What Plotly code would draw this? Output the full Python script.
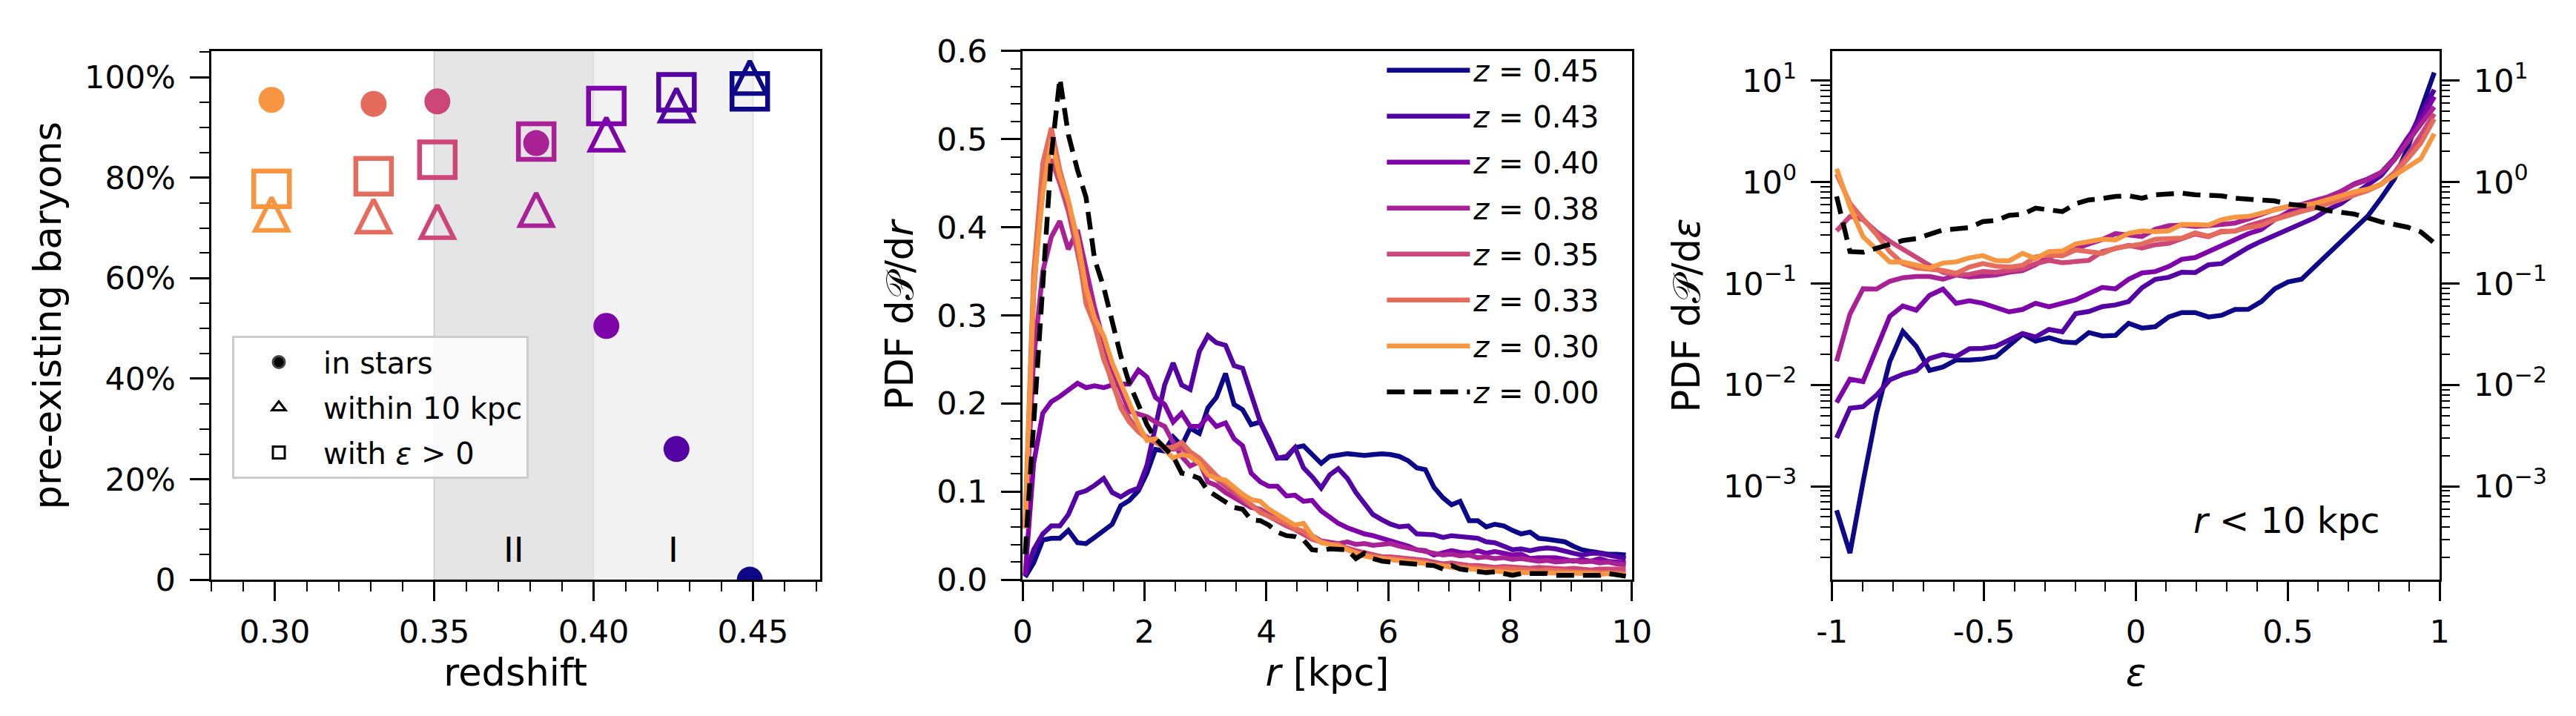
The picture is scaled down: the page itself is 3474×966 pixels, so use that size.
import plotly.graph_objects as go

# ---------------- panel 1: pre-existing baryons vs redshift ----------------
redshift = [0.299, 0.331, 0.351, 0.382, 0.404, 0.426, 0.449]
frac_in_stars = [0.955, 0.947, 0.952, 0.869, 0.505, 0.260, 0.0]
frac_within_10kpc = [0.728, 0.724, 0.713, 0.737, 0.887, 0.945, 1.0]
frac_eps_positive = [0.778, 0.803, 0.836, 0.872, 0.943, 0.970, 0.972]
phase_edges = [0.35, 0.40, 0.45]
phase_labels = ["II", "I"]

# plasma colours, one per snapshot (z=0.45 ... z=0.30)
snap_labels = ["0.45", "0.43", "0.40", "0.38", "0.35", "0.33", "0.30"]
snap_colors = ["#0d0887", "#5302a3", "#7e03a8", "#a82296", "#cc4778", "#e56b5d", "#f89540"]
point_colors = snap_colors[::-1]  # redshift list runs 0.30 -> 0.45

# ---------------- panel 2: radial PDF ----------------
r_kpc = [0.04, 0.18, 0.33, 0.47, 0.61, 0.75, 0.90, 1.04, 1.18, 1.33,
         1.47, 1.61, 1.75, 1.90, 2.04, 2.18, 2.33, 2.47, 2.61, 2.75,
         2.90, 3.04, 3.18, 3.33, 3.47, 3.61, 3.75, 3.90, 4.04, 4.18,
         4.33, 4.47, 4.61, 4.75, 4.90, 5.04, 5.18, 5.33, 5.47, 5.61,
         5.75, 5.90, 6.04, 6.18, 6.33, 6.47, 6.61, 6.75, 6.90, 7.04,
         7.18, 7.33, 7.47, 7.61, 7.75, 7.90, 8.04, 8.18, 8.33, 8.47,
         8.61, 8.75, 8.90, 9.04, 9.18, 9.33, 9.47, 9.61, 9.75, 9.90]

pdf_r_045 = [0.003, 0.019, 0.045, 0.047, 0.047, 0.056, 0.042, 0.041, 0.048, 0.056,
             0.063, 0.084, 0.090, 0.101, 0.121, 0.148, 0.146, 0.162, 0.152, 0.172,
             0.166, 0.195, 0.207, 0.234, 0.199, 0.193, 0.176, 0.179, 0.160, 0.138,
             0.138, 0.150, 0.152, 0.142, 0.132, 0.140, 0.142, 0.143, 0.142, 0.141,
             0.142, 0.143, 0.142, 0.140, 0.135, 0.127, 0.125, 0.105, 0.093, 0.085,
             0.089, 0.067, 0.067, 0.060, 0.063, 0.061, 0.056, 0.052, 0.054, 0.047,
             0.046, 0.045, 0.043, 0.038, 0.034, 0.032, 0.030, 0.029, 0.029, 0.028]
pdf_r_043 = [0.005, 0.034, 0.052, 0.061, 0.061, 0.074, 0.098, 0.101, 0.107, 0.115,
             0.099, 0.094, 0.100, 0.104, 0.130, 0.176, 0.221, 0.246, 0.221, 0.216,
             0.259, 0.277, 0.269, 0.266, 0.243, 0.240, 0.211, 0.179, 0.160, 0.138,
             0.140, 0.150, 0.127, 0.117, 0.104, 0.119, 0.126, 0.115, 0.099, 0.086,
             0.074, 0.068, 0.063, 0.060, 0.061, 0.052, 0.052, 0.051, 0.048, 0.050,
             0.049, 0.048, 0.047, 0.043, 0.042, 0.038, 0.034, 0.035, 0.033, 0.035,
             0.036, 0.035, 0.032, 0.030, 0.028, 0.030, 0.030, 0.028, 0.027, 0.024]
pdf_r_040 = [0.005, 0.132, 0.189, 0.202, 0.208, 0.216, 0.223, 0.218, 0.220, 0.218,
             0.221, 0.222, 0.222, 0.238, 0.230, 0.207, 0.199, 0.179, 0.189, 0.174,
             0.174, 0.185, 0.174, 0.178, 0.160, 0.152, 0.121, 0.111, 0.106, 0.106,
             0.095, 0.096, 0.089, 0.090, 0.078, 0.071, 0.064, 0.059, 0.055, 0.052,
             0.050, 0.047, 0.044, 0.042, 0.038, 0.034, 0.033, 0.028, 0.030, 0.033,
             0.031, 0.030, 0.033, 0.030, 0.032, 0.030, 0.028, 0.029, 0.024, 0.025,
             0.025, 0.025, 0.023, 0.021, 0.023, 0.021, 0.024, 0.021, 0.020, 0.019]
pdf_r_038 = [0.060, 0.250, 0.350, 0.389, 0.407, 0.375, 0.397, 0.350, 0.309, 0.270,
             0.238, 0.215, 0.191, 0.188, 0.185, 0.179, 0.174, 0.156, 0.140, 0.129,
             0.134, 0.111, 0.107, 0.099, 0.093, 0.087, 0.082, 0.080, 0.074, 0.070,
             0.064, 0.058, 0.054, 0.050, 0.044, 0.042, 0.041, 0.043, 0.040, 0.041,
             0.039, 0.040, 0.041, 0.038, 0.036, 0.034, 0.033, 0.031, 0.028, 0.029,
             0.027, 0.028, 0.025, 0.026, 0.024, 0.025, 0.023, 0.024, 0.022, 0.021,
             0.022, 0.020, 0.021, 0.022, 0.020, 0.021, 0.019, 0.020, 0.018, 0.017]
pdf_r_035 = [0.058, 0.324, 0.462, 0.477, 0.450, 0.418, 0.371, 0.324, 0.293, 0.254,
             0.223, 0.199, 0.183, 0.168, 0.162, 0.156, 0.150, 0.148, 0.150, 0.140,
             0.132, 0.122, 0.114, 0.107, 0.099, 0.091, 0.084, 0.079, 0.072, 0.066,
             0.061, 0.057, 0.051, 0.046, 0.043, 0.041, 0.038, 0.036, 0.033, 0.031,
             0.029, 0.026, 0.026, 0.025, 0.024, 0.024, 0.022, 0.020, 0.018, 0.019,
             0.017, 0.016, 0.016, 0.015, 0.014, 0.015, 0.014, 0.013, 0.013, 0.014,
             0.013, 0.012, 0.012, 0.013, 0.012, 0.011, 0.012, 0.012, 0.011, 0.012]
pdf_r_033 = [0.066, 0.348, 0.473, 0.513, 0.465, 0.430, 0.379, 0.313, 0.289, 0.250,
             0.226, 0.195, 0.179, 0.168, 0.160, 0.156, 0.150, 0.150, 0.156, 0.145,
             0.138, 0.127, 0.118, 0.110, 0.103, 0.094, 0.085, 0.076, 0.072, 0.068,
             0.064, 0.058, 0.055, 0.047, 0.043, 0.040, 0.040, 0.035, 0.030, 0.028,
             0.026, 0.025, 0.024, 0.023, 0.022, 0.022, 0.020, 0.017, 0.015, 0.016,
             0.015, 0.014, 0.014, 0.013, 0.012, 0.013, 0.012, 0.011, 0.011, 0.010,
             0.011, 0.010, 0.010, 0.009, 0.009, 0.008, 0.008, 0.008, 0.007, 0.007]
pdf_r_030 = [0.058, 0.332, 0.438, 0.499, 0.458, 0.430, 0.387, 0.332, 0.297, 0.277,
             0.246, 0.223, 0.203, 0.176, 0.158, 0.160, 0.148, 0.138, 0.142, 0.140,
             0.132, 0.119, 0.115, 0.113, 0.105, 0.097, 0.091, 0.089, 0.080, 0.074,
             0.068, 0.062, 0.064, 0.050, 0.042, 0.040, 0.038, 0.034, 0.030, 0.027,
             0.025, 0.024, 0.023, 0.022, 0.021, 0.020, 0.018, 0.017, 0.016, 0.014,
             0.013, 0.012, 0.012, 0.011, 0.010, 0.009, 0.008, 0.008, 0.008, 0.007,
             0.008, 0.008, 0.007, 0.008, 0.007, 0.007, 0.006, 0.007, 0.006, 0.005]
pdf_r_000 = [0.029, 0.176, 0.348, 0.481, 0.569, 0.505, 0.465, 0.434, 0.364, 0.332,
             0.293, 0.254, 0.223, 0.199, 0.176, 0.160, 0.150, 0.140, 0.121, 0.119,
             0.115, 0.101, 0.095, 0.089, 0.082, 0.080, 0.068, 0.067, 0.062, 0.054,
             0.050, 0.049, 0.045, 0.034, 0.033, 0.035, 0.035, 0.034, 0.024, 0.030,
             0.024, 0.021, 0.020, 0.019, 0.018, 0.018, 0.017, 0.016, 0.012, 0.016,
             0.012, 0.011, 0.010, 0.008, 0.009, 0.007, 0.005, 0.007, 0.007, 0.006,
             0.007, 0.005, 0.005, 0.005, 0.005, 0.004, 0.005, 0.007, 0.005, 0.004]

# ---------------- panel 3: circularity PDF (r < 10 kpc) ----------------
eps = [-0.985, -0.941, -0.898, -0.854, -0.810, -0.767, -0.723, -0.679, -0.635, -0.592,
       -0.548, -0.504, -0.461, -0.417, -0.373, -0.330, -0.286, -0.242, -0.198, -0.155,
       -0.111, -0.067, -0.024, 0.020, 0.064, 0.108, 0.151, 0.195, 0.239, 0.282,
       0.326, 0.370, 0.413, 0.457, 0.501, 0.545, 0.588, 0.632, 0.676, 0.719,
       0.763, 0.807, 0.850, 0.894, 0.938, 0.982]

pdf_e_045 = [5.8e-4, 2.2e-4, 1.1e-3, 5.2e-3, 0.017, 0.0336, 0.024, 0.0139, 0.0150, 0.0176,
             0.0176, 0.0180, 0.0190, 0.0249, 0.0316, 0.0270, 0.0292, 0.0266, 0.0260, 0.0328,
             0.0304, 0.0308, 0.0405, 0.0363, 0.0375, 0.0467, 0.0516, 0.0516, 0.0467, 0.0485,
             0.0554, 0.0556, 0.0663, 0.0885, 0.1036, 0.110, 0.145, 0.198, 0.261, 0.337,
             0.461, 0.692, 1.064, 2.15, 5.09, 12.0]
pdf_e_043 = [0.0030, 0.0059, 0.0061, 0.0079, 0.0112, 0.0127, 0.0138, 0.0182, 0.0199, 0.0190,
             0.0227, 0.0229, 0.0240, 0.0281, 0.0321, 0.0297, 0.0352, 0.0333, 0.0505, 0.0529,
             0.059, 0.0614, 0.0664, 0.0907, 0.110, 0.115, 0.129, 0.128, 0.153, 0.157,
             0.188, 0.226, 0.261, 0.300, 0.343, 0.385, 0.443, 0.535, 0.616, 0.760,
             0.925, 1.16, 1.66, 2.56, 4.70, 8.13]
pdf_e_040 = [0.0067, 0.0114, 0.0108, 0.0231, 0.0474, 0.060, 0.0546, 0.0764, 0.088, 0.0638,
             0.0674, 0.0638, 0.058, 0.0525, 0.0554, 0.0638, 0.059, 0.0632, 0.069, 0.0794,
             0.0914, 0.0885, 0.110, 0.127, 0.131, 0.147, 0.173, 0.180, 0.206, 0.241,
             0.269, 0.310, 0.340, 0.427, 0.502, 0.578, 0.630, 0.687, 0.810, 0.962,
             1.07, 1.24, 1.70, 2.72, 4.02, 6.95]
pdf_e_038 = [0.0171, 0.050, 0.0886, 0.088, 0.105, 0.114, 0.117, 0.117, 0.110, 0.121,
             0.116, 0.117, 0.121, 0.129, 0.134, 0.153, 0.183, 0.198, 0.223, 0.245,
             0.271, 0.310, 0.300, 0.290, 0.343, 0.371, 0.376, 0.365, 0.371, 0.385,
             0.394, 0.433, 0.480, 0.535, 0.570, 0.601, 0.656, 0.714, 0.810, 0.947,
             1.05, 1.24, 1.64, 2.52, 3.72, 5.50]
pdf_e_035 = [0.330, 0.457, 0.426, 0.324, 0.261, 0.216, 0.179, 0.151, 0.129, 0.122,
             0.123, 0.131, 0.129, 0.134, 0.139, 0.157, 0.169, 0.160, 0.163, 0.169,
             0.206, 0.223, 0.237, 0.223, 0.241, 0.249, 0.277, 0.307, 0.289, 0.327,
             0.327, 0.371, 0.404, 0.440, 0.487, 0.531, 0.578, 0.616, 0.698, 0.755,
             0.842, 0.947, 1.23, 1.84, 2.90, 4.70]
pdf_e_033 = [1.20, 0.616, 0.433, 0.305, 0.206, 0.157, 0.142, 0.139, 0.134, 0.126,
             0.145, 0.157, 0.148, 0.145, 0.151, 0.183, 0.190, 0.187, 0.214, 0.206,
             0.198, 0.223, 0.232, 0.245, 0.273, 0.275, 0.280, 0.315, 0.293, 0.322,
             0.330, 0.356, 0.373, 0.426, 0.472, 0.511, 0.552, 0.606, 0.676, 0.743,
             0.822, 0.947, 1.20, 1.68, 2.42, 4.18]
pdf_e_030 = [1.35, 0.570, 0.289, 0.219, 0.163, 0.163, 0.154, 0.142, 0.159, 0.163,
             0.179, 0.188, 0.168, 0.167, 0.198, 0.176, 0.206, 0.209, 0.245, 0.261,
             0.273, 0.269, 0.312, 0.330, 0.324, 0.330, 0.382, 0.380, 0.376, 0.426,
             0.451, 0.457, 0.494, 0.543, 0.574, 0.588, 0.616, 0.671, 0.743, 0.803,
             0.849, 0.955, 1.15, 1.40, 1.70, 2.99]
pdf_e_000 = [0.72, 0.206, 0.203, 0.223, 0.241, 0.265, 0.277, 0.310, 0.337, 0.345,
             0.356, 0.407, 0.417, 0.469, 0.480, 0.552, 0.535, 0.511, 0.611, 0.666,
             0.687, 0.720, 0.731, 0.692, 0.749, 0.760, 0.778, 0.749, 0.731, 0.731,
             0.692, 0.676, 0.666, 0.651, 0.606, 0.592, 0.570, 0.523, 0.502, 0.483,
             0.443, 0.404, 0.382, 0.359, 0.322, 0.251]

pdf_r = [pdf_r_045, pdf_r_043, pdf_r_040, pdf_r_038, pdf_r_035, pdf_r_033, pdf_r_030]
pdf_e = [pdf_e_045, pdf_e_043, pdf_e_040, pdf_e_038, pdf_e_035, pdf_e_033, pdf_e_030]

FONT = "DejaVu Sans"
LW = 6.5
DASH = "24px,12px"

fig = go.Figure()

# phase shading in panel 1
fig.add_shape(type="rect", xref="x", yref="y domain", x0=phase_edges[0], x1=phase_edges[1],
              y0=0, y1=1, fillcolor="#e5e5e5", line=dict(color="#cfcfcf", width=2), layer="below")
fig.add_shape(type="rect", xref="x", yref="y domain", x0=phase_edges[1], x1=phase_edges[2],
              y0=0, y1=1, fillcolor="#f2f2f2", line=dict(color="#e2e2e2", width=2), layer="below")

# upward triangle with equal width/height, centred on the point
# (arrow-down rotated by 180 deg, pushed back by half its size)
TRI = 44
fig.add_trace(go.Scatter(x=redshift, y=frac_within_10kpc, mode="markers", showlegend=False,
                         marker=dict(symbol="arrow-down-open", size=TRI, angle=180,
                                     standoff=TRI / 2, color=point_colors,
                                     line=dict(width=6)),
                         xaxis="x", yaxis="y"))
fig.add_trace(go.Scatter(x=redshift, y=frac_eps_positive, mode="markers", showlegend=False,
                         marker=dict(symbol="square-open", size=48, color=point_colors,
                                     line=dict(width=6.5)),
                         xaxis="x", yaxis="y"))
fig.add_trace(go.Scatter(x=redshift, y=frac_in_stars, mode="markers", showlegend=False,
                         marker=dict(symbol="circle", size=35, color=point_colors, line=dict(width=0)),
                         xaxis="x", yaxis="y"))

# legend entries for the marker types
for sym, name in [("circle", "in stars"), ("triangle-up-open", "within 10 kpc"),
                  ("square-open", "with <i>ε</i> &gt; 0")]:
    fig.add_trace(go.Scatter(x=[None], y=[None], mode="markers", name=name, legend="legend",
                             legendgroup=name,
                             marker=dict(symbol=sym, size=16, color="black", line=dict(width=3)),
                             xaxis="x", yaxis="y"))

# panel 2 and 3 curves
for lab, col, yr, ye in zip(snap_labels, snap_colors, pdf_r, pdf_e):
    fig.add_trace(go.Scatter(x=r_kpc, y=yr, mode="lines", name="<i>z</i> = " + lab,
                             legend="legend2", legendgroup=lab, line=dict(color=col, width=LW),
                             xaxis="x2", yaxis="y2"))
    fig.add_trace(go.Scatter(x=eps, y=ye, mode="lines", showlegend=False,
                             line=dict(color=col, width=LW), xaxis="x3", yaxis="y3"))

fig.add_trace(go.Scatter(x=r_kpc, y=pdf_r_000, mode="lines", name="<i>z</i> = 0.00",
                         legend="legend2", legendgroup="0.00",
                         line=dict(color="black", width=LW, dash=DASH),
                         xaxis="x2", yaxis="y2"))
# drawn on the twin (right-hand) log axis, which has the same range
fig.add_trace(go.Scatter(x=eps, y=pdf_e_000, mode="lines", showlegend=False,
                         line=dict(color="black", width=LW, dash=DASH),
                         xaxis="x3", yaxis="y4"))

tick_font = dict(family=FONT, size=43, color="black")
title_font = dict(family=FONT, size=51, color="black")
common = dict(showline=True, linecolor="black", linewidth=3, mirror=True, ticks="outside",
              ticklen=26, tickwidth=3, tickcolor="black", showgrid=False, zeroline=False,
              tickfont=tick_font)
minor_style = dict(ticks="outside", ticklen=13, tickwidth=2, tickcolor="black", showgrid=False)

ydom = [0.1822, 0.9607]
log_minor = [m * 10.0 ** e for e in range(-4, 2) for m in range(2, 10)]
log_vals = [1e-3, 1e-2, 1e-1, 1, 10]
log_text = ["10<sup>−3</sup>", "10<sup>−2</sup>", "10<sup>−1</sup>", "10<sup>0</sup>", "10<sup>1</sup>"]

fig.update_layout(
    width=3474, height=966,
    margin=dict(l=0, r=0, t=0, b=0),
    paper_bgcolor="white", plot_bgcolor="rgba(0,0,0,0)",
    font=dict(family=FONT, color="black"),
    xaxis=dict(domain=[0.0746, 0.3143], range=[0.28, 0.471], anchor="y",
               tickvals=[0.30, 0.35, 0.40, 0.45], ticktext=["0.30", "0.35", "0.40", "0.45"],
               ticklabelstandoff=4,
               minor=dict(tick0=0.30, dtick=0.01, **minor_style),
               title=dict(text="redshift", font=title_font, standoff=14), **common),
    yaxis=dict(domain=ydom, range=[0, 1.052], anchor="x",
               tickvals=[0, 0.2, 0.4, 0.6, 0.8, 1.0],
               ticktext=["0", "20%", "40%", "60%", "80%", "100%"], ticklabelstandoff=10,
               minor=dict(tick0=0, dtick=0.05, **minor_style),
               title=dict(text="pre-existing baryons", font=title_font, standoff=16), **common),
    xaxis2=dict(domain=[0.3941, 0.6339], range=[0, 10], anchor="y2", dtick=2,
                ticklabelstandoff=4,
                minor=dict(tick0=0, dtick=0.5, **minor_style),
                title=dict(text="<i>r</i> [kpc]", font=title_font, standoff=14), **common),
    yaxis2=dict(domain=ydom, range=[0, 0.6], anchor="x2", dtick=0.1, tickformat=".1f",
                ticklabelstandoff=10,
                minor=dict(tick0=0, dtick=0.02, **minor_style),
                title=dict(text="PDF d𝒫/d<i>r</i>", font=title_font, standoff=16), **common),
    xaxis3=dict(domain=[0.7127, 0.9519], range=[-1, 1], anchor="y3",
                tickvals=[-1, -0.5, 0, 0.5, 1], ticktext=["-1", "-0.5", "0", "0.5", "1"],
                ticklabelstandoff=4,
                minor=dict(tick0=-1, dtick=0.1, **minor_style),
                title=dict(text="<i>ε</i>", font=title_font, standoff=14), **common),
    yaxis3=dict(domain=ydom, type="log", range=[-3.92, 1.29], anchor="x3",
                tickvals=log_vals, ticktext=log_text, ticklabelstandoff=10,
                minor=dict(tickmode="array", tickvals=log_minor, **minor_style),
                title=dict(text="PDF d𝒫/d<i>ε</i>", font=title_font, standoff=16), **common),
    yaxis4=dict(domain=ydom, type="log", range=[-3.92, 1.29], anchor="x3", overlaying="y3",
                side="right", showline=False, ticks="outside", ticklen=26, tickwidth=3,
                tickcolor="black", showgrid=False, zeroline=False, tickfont=tick_font,
                tickvals=log_vals, ticktext=log_text, ticklabelstandoff=10,
                minor=dict(tickmode="array", tickvals=log_minor, **minor_style)),
    legend=dict(x=0.0829, y=0.5414, xanchor="left", yanchor="top",
                bgcolor="rgba(255,255,255,0.8)", bordercolor="#cccccc", borderwidth=3,
                font=dict(family=FONT, size=40, color="black"), tracegroupgap=6,
                itemwidth=110),
    legend2=dict(x=0.536, y=0.968, xanchor="left", yanchor="top",
                 bgcolor="rgba(0,0,0,0)", borderwidth=0,
                 font=dict(family=FONT, size=40, color="black"), itemwidth=112,
                 tracegroupgap=7),
)

# phase labels and text
for i, lab in enumerate(phase_labels):
    fig.add_annotation(x=(phase_edges[i] + phase_edges[i + 1]) / 2, y=0.06, xref="x", yref="y",
                       text=lab, showarrow=False, font=dict(family=FONT, size=47, color="black"))
fig.add_annotation(x=0.8915, y=0.27, xref="paper", yref="paper", xanchor="center",
                   yanchor="middle", text="<i>r</i> &lt; 10 kpc",
                   showarrow=False, font=dict(family=FONT, size=48, color="black"))

fig.write_html("out.html")
